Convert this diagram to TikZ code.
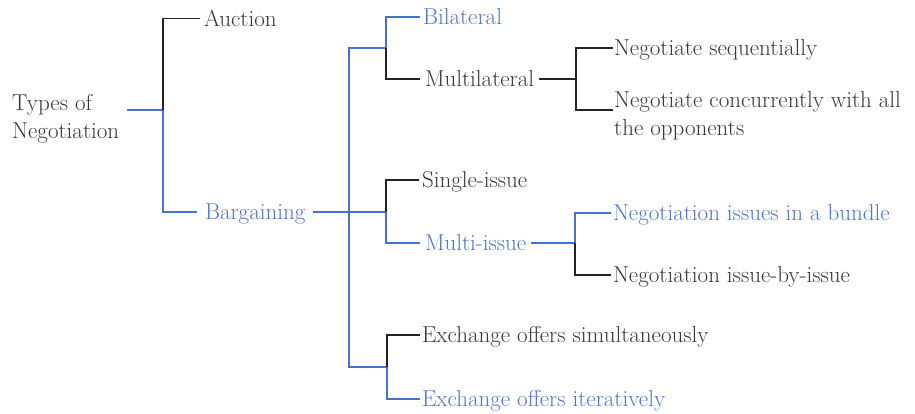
\documentclass[tikz,border=0pt]{standalone}
\usepackage{fontspec}
\definecolor{lnblue}{RGB}{68,114,196}
\definecolor{lnblack}{RGB}{35,35,35}
\definecolor{txtblue}{RGB}{80,118,190}
\definecolor{txtgray}{RGB}{55,55,55}
\begin{document}
\begin{tikzpicture}[x=1pt,y=-1pt,
  txt/.style={font=\rmfamily\fontsize{23}{28}\selectfont, text=txtgray},
  lbl/.style={txt, anchor=west, inner sep=0pt, outer xsep=#1,
              text height=15.5pt, text depth=0pt},
  lbl/.default=3pt,
  multi/.style={txt, anchor=north west, inner sep=0pt, align=left},
  blu/.style={text=txtblue},
  bk/.style={draw=lnblack, line width=1.4pt},
  bl/.style={draw=lnblue, line width=1.4pt},
]
\useasboundingbox (0,0) rectangle (915,413);

% junction points of the brackets
\coordinate (rootout) at (127,110);
\coordinate (j0)   at (163,110);
\coordinate (jb)   at (349,212);
\coordinate (jtop) at (386,48);
\coordinate (jmid) at (386,212);
\coordinate (jlow) at (387,367);
\coordinate (jml)  at (576,79);
\coordinate (jmi)  at (575,243);
\coordinate (concin) at (613,110);

% labels
\node[multi] (types) at (12,94) {Types of\\Negotiation};
\node[lbl=4pt] (auction) at (200,18.5) {Auction};
\node[lbl=8pt, blu] (barg) at (197,212) {Bargaining};

\node[lbl=3pt, blu] (bilat) at (420,17) {Bilateral};
\node[lbl=5pt] (multil) at (420,79) {Multilateral};
\node[lbl=1pt] (seq) at (613,48) {Negotiate sequentially};
\node[multi] (conc) at (614,91.5) {Negotiate concurrently with all\\the opponents};

\node[lbl=3pt] (single) at (419,180) {Single-issue};
\node[lbl=5pt, blu] (multii) at (420,243) {Multi-issue};
\node[lbl=2pt, blu] (bundle) at (611,213) {Negotiation issues in a bundle};
\node[lbl=2pt] (ibi) at (611,275) {Negotiation issue-by-issue};

\node[lbl=2pt] (sim) at (420,335) {Exchange offers simultaneously};
\node[lbl=2pt, blu] (iter) at (420,399) {Exchange offers iteratively};

% connectors
\draw[bl] (rootout) -- (j0);
\draw[bk] (j0) |- (auction.west);
\draw[bl] (j0) |- (barg.west);
\draw[bl] (barg.east) -- (jmid);
\draw[bl] (jb) |- (jtop);
\draw[bl] (jb) |- (jlow);

\draw[bl] (jtop) |- (bilat.west);
\draw[bk] (jtop) |- (multil.west);
\draw[bk] (multil.east) -- (jml);
\draw[bk] (jml) |- (seq.west);
\draw[bk] (jml) |- (concin);

\draw[bk] (jmid) |- (single.west);
\draw[bl] (jmid) |- (multii.west);
\draw[bl] (multii.east) -- (jmi);
\draw[bl] (jmi) |- (bundle.west);
\draw[bk] (jmi) |- (ibi.west);

\draw[bk] (jlow) |- (sim.west);
\draw[bl] (jlow) |- (iter.west);
\end{tikzpicture}
\end{document}
